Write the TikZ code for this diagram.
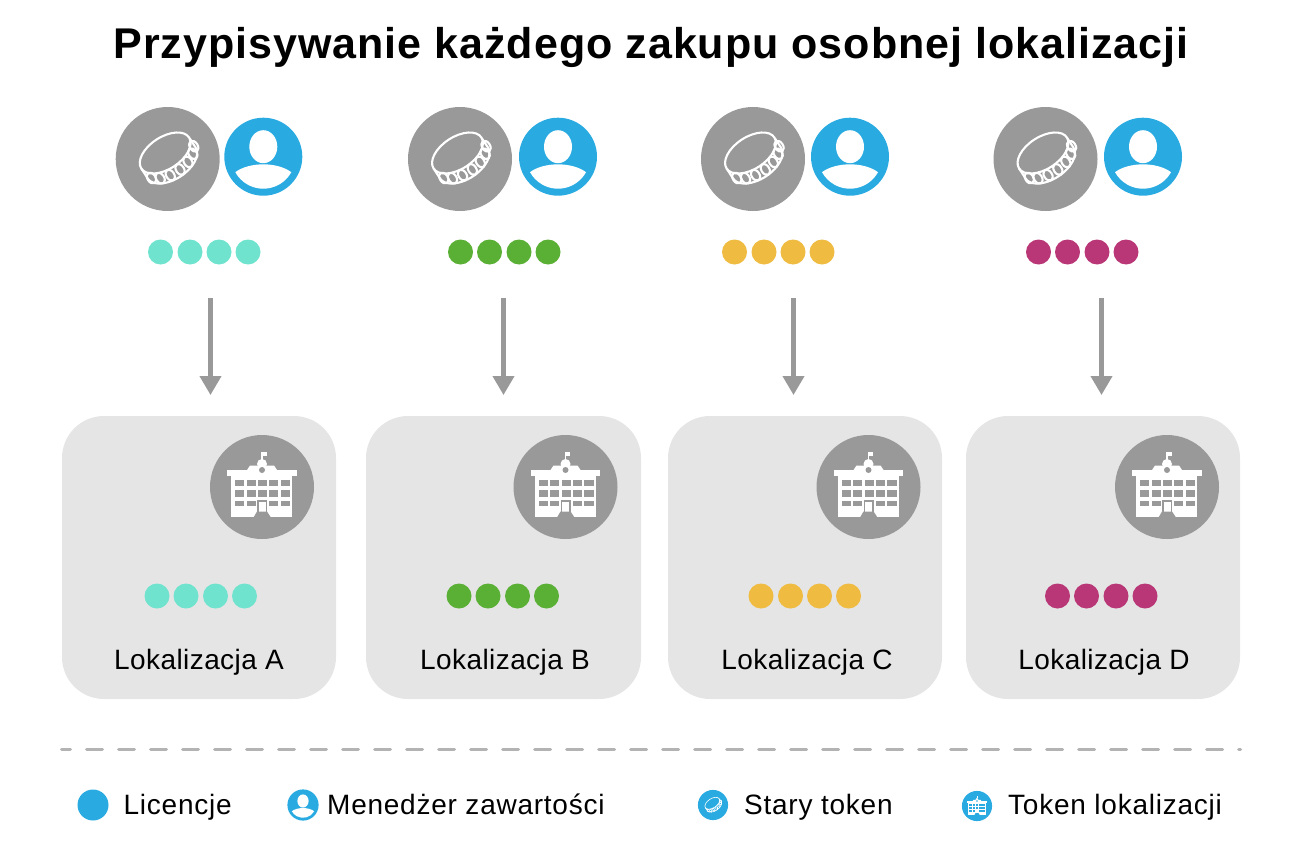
\documentclass[tikz,border=0pt]{standalone}
\usepackage{fontspec}
\setmainfont{Liberation Sans}
\newfontfamily\titlefont[LetterSpace=2.3]{Liberation Sans}
\newfontfamily\cardfont[LetterSpace=1.5]{Liberation Sans}
\newfontfamily\legendfont[LetterSpace=2.7]{Liberation Sans}
\usepackage{xcolor}
\usetikzlibrary{arrows.meta}
\definecolor{bluelic}{HTML}{29ABE2}
\definecolor{greytok}{HTML}{999999}
\definecolor{greycard}{HTML}{E5E5E5}
\definecolor{dashgrey}{HTML}{B3B3B3}
\definecolor{dotA}{HTML}{70E3CF}
\definecolor{dotB}{HTML}{5AAF35}
\definecolor{dotC}{HTML}{EFBB40}
\definecolor{dotD}{HTML}{B93777}
% four dots in a row: x positions, y, colour
\newcommand{\dotrow}[3]{\foreach \dx in {#1} \fill [#3] (\dx,#2) circle (12.5);}
% x, y, scale, background
\newcommand{\puckicon}[4]{%
  \fill [#4] (#1,#2) circle (#3*52);
  \begin{scope}[shift={(#1,#2)},scale=#3,shift={(-2.5,6)},rotate=33,draw=white,line width=#3*2.1pt]
    \draw (0,0) ellipse [x radius=28.5,y radius=16];
    \draw (-28.5,0) -- (-28.5,-12) arc [start angle=180,end angle=360,x radius=28.5,y radius=16] -- (28.5,-1);
    \foreach \a in {208,231,254,277,300,323,346}
      \draw ({28.5*cos(\a)},{-6+16*sin(\a)}) ellipse [x radius=4,y radius=6];
  \end{scope}}
% x, y, scale
\newcommand{\personicon}[3]{%
  \begin{scope}[shift={(#1,#2)},scale=#3]
    \fill [bluelic] (0,0) circle (39);
    \fill [white] (0,10) ellipse [x radius=14,y radius=16.5];
    \fill [white] (-28,-15.5) .. controls (-14,-5) and (14,-5) .. (28,-15.5)
      arc [start angle=331,end angle=209,radius=32];
  \end{scope}}
% x, y, scale, background
\newcommand{\buildicon}[4]{%
  \fill [#4] (#1,#2) circle (#3*52);
  \begin{scope}[shift={(#1,#2)},scale=#3]
    \fill [white] (-35,11.5) rectangle (34.5,17);
    \fill [white] (-15,17) -- (-12,21.5) -- (12,21.5) -- (15,17) -- cycle;
    \fill [white] (0,23) circle (5);
    \draw [white,line width=#3*1.2pt] (0,26) -- (0,35);
    \fill [white] (0,35) -- (4.5,35) -- (4.5,31.5) -- (0,31.5) -- cycle;
    \fill [white] (0,17) circle (4.4);
    \fill [#4] (0,17) circle (3);
    \fill [white] (-31,-30) rectangle (30,11.7);
    \foreach \wy/\wh in {7.5/6.5,-3/6.5,-13.5/5.5}
      \foreach \wx/\ww in {-27/9.3,-15.5/9.3,-4/9,7/9.3,18.5/9.5}
        \fill [#4] (\wx,\wy) rectangle ++(\ww,-\wh);
    \fill [white] (-6,-12) rectangle (6,-25);
    \fill [#4] (-5,-13) rectangle (5,-24.5);
    \fill [white] (-3.5,-14.5) rectangle (3.5,-24.5);
    \fill [#4] (-8.5,-30.5) -- (-5,-24.5) -- (5,-24.5) -- (9,-30.5) -- cycle;
  \end{scope}}
\tikzset{
  cardbox/.style={fill=greycard,rounded corners=42},
  gridarrow/.style={draw=greytok,line width=4.2pt,line cap=butt,-{Triangle[width=21pt,length=19pt]}},
  cardlabel/.style={inner sep=0,font=\cardfont\fontsize{28}{30}\selectfont,anchor=base},
  legendlabel/.style={inner sep=0,font=\legendfont\fontsize{28}{30}\selectfont,anchor=base west}
}
\begin{document}
\begin{tikzpicture}[line join=round,x=1pt,y=1pt]
  \useasboundingbox (0,-859) rectangle (1303,0);
  \node (title) [inner sep=0,anchor=base,font=\titlefont\bfseries\fontsize{43}{50}\selectfont] at (651,-59) {Przypisywanie każdego zakupu osobnej lokalizacji};
  % tokens and content managers
  \puckicon{167.7}{-159}{1}{greytok}
  \puckicon{460}{-159}{1}{greytok}
  \puckicon{753}{-159}{1}{greytok}
  \puckicon{1045.5}{-159}{1}{greytok}
  \personicon{263.3}{-156.7}{1}
  \personicon{558}{-156.7}{1}
  \personicon{850}{-156.7}{1}
  \personicon{1143}{-156.7}{1}
  \dotrow{160.5,190,219,248}{-252}{dotA}
  \dotrow{460.5,489.5,519,548}{-252}{dotB}
  \dotrow{734.5,764,793,822}{-252}{dotC}
  \dotrow{1038.5,1067.5,1097,1126}{-252}{dotD}
  % arrows
  \foreach \n/\ax in {A/210.5,B/503.5,C/793.5,D/1101.5} {
    \coordinate (from\n) at (\ax,-298);
    \coordinate (to\n) at (\ax,-395);
    \draw [gridarrow] (from\n) -- (to\n);
  }
  % locations
  \fill [cardbox] (62,-416) rectangle (336,-699);
  \fill [cardbox] (366,-416) rectangle (641,-699);
  \fill [cardbox] (668,-416) rectangle (942,-699);
  \fill [cardbox] (966,-416) rectangle (1240,-699);
  \buildicon{262}{-487}{1}{greytok}
  \buildicon{565.5}{-487}{1}{greytok}
  \buildicon{868.5}{-487}{1}{greytok}
  \buildicon{1167}{-487}{1}{greytok}
  \dotrow{157,186,215.5,244.5}{-596}{dotA}
  \dotrow{459,488,517.5,546.5}{-596}{dotB}
  \dotrow{761,790.5,819.5,848.5}{-596}{dotC}
  \dotrow{1057.5,1086.5,1116,1145}{-596}{dotD}
  \node (locA) [cardlabel] at (199,-669) {Lokalizacja A};
  \node (locB) [cardlabel] at (505,-669) {Lokalizacja B};
  \node (locC) [cardlabel] at (807,-669) {Lokalizacja C};
  \node (locD) [cardlabel] at (1104,-669) {Lokalizacja D};
  \draw [dashgrey,line width=3pt,line cap=round,dash pattern=on 16pt off 16pt,dash phase=7pt] (61.5,-749) -- (1240.5,-749);
  % legend
  \fill [bluelic] (93,-805) circle (15.5);
  \node (licencje) [legendlabel] at (123.5,-814) {Licencje};
  \personicon{303}{-805}{0.4}
  \node (manager) [legendlabel] at (327,-814) {Menedżer zawartości};
  \puckicon{713}{-805}{0.29}{bluelic}
  \node (stary) [legendlabel] at (744,-814) {Stary token};
  \buildicon{977}{-806}{0.29}{bluelic}
  \node (tokenlok) [legendlabel] at (1008,-814) {Token lokalizacji};
\end{tikzpicture}
\end{document}
